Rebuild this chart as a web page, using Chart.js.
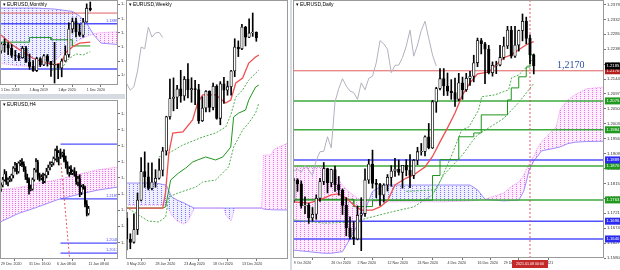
<!DOCTYPE html>
<html>
<head>
<meta charset="utf-8">
<title>EURUSD Monthly / H4 / Weekly / Daily</title>
<script src="https://cdn.jsdelivr.net/npm/chart.js@4.4.1/dist/chart.umd.min.js"></script>
<style>
  html, body { margin: 0; padding: 0; }
  body { width: 620px; height: 270px; position: relative; overflow: hidden; background: #d6dbe2; }
  canvas { position: absolute; background: #fff; }
</style>
</head>
<body>
<canvas id="monthly" width="125" height="94" style="left:0;top:0"></canvas>
<canvas id="h4" width="125" height="171" style="left:0;top:99px"></canvas>
<canvas id="weekly" width="165" height="270" style="left:125px;top:0"></canvas>
<canvas id="daily" width="328" height="270" style="left:292px;top:0"></canvas>
<script>
"use strict";

// ---------- Daily: bar 0 = 9 Oct 2020, bar 64 = 11 Jan 2021 ----------
const dailyOpen = [
  1.1760, 1.1826, 1.1814, 1.1745, 1.1747, 1.1706, 1.1718, 1.1768, 1.1821, 1.1862,
  1.1817, 1.1859, 1.1811, 1.1794, 1.1746, 1.1675, 1.1646, 1.1640, 1.1715, 1.1720,
  1.1826, 1.1876, 1.1815, 1.1812, 1.1779, 1.1810, 1.1834, 1.1854, 1.1860, 1.1850,
  1.1872, 1.1857, 1.1840, 1.1888, 1.1915, 1.1916, 1.1962, 1.1927, 1.2072, 1.2114,
  1.2145, 1.2122, 1.2106, 1.2101, 1.2080, 1.2132, 1.2110, 1.2146, 1.2153, 1.2195,
  1.2265, 1.2255, 1.2238, 1.2164, 1.2187, 1.2188, 1.2212, 1.2248, 1.2298, 1.2216,
  1.2251, 1.2297, 1.2326, 1.2272, 1.2220];
const dailyHigh = [
  1.1831, 1.1830, 1.1823, 1.1773, 1.1752, 1.1739, 1.1779, 1.1831, 1.1881, 1.1863,
  1.1860, 1.1870, 1.1837, 1.1798, 1.1770, 1.1710, 1.1695, 1.1744, 1.1770, 1.1861,
  1.1891, 1.1920, 1.1828, 1.1815, 1.1814, 1.1843, 1.1871, 1.1894, 1.1889, 1.1872,
  1.1890, 1.1906, 1.1891, 1.1929, 1.1941, 1.1965, 1.2004, 1.2077, 1.2118, 1.2177,
  1.2177, 1.2163, 1.2142, 1.2147, 1.2162, 1.2150, 1.2162, 1.2168, 1.2219, 1.2273,
  1.2272, 1.2260, 1.2250, 1.2198, 1.2200, 1.2250, 1.2276, 1.2310, 1.2310, 1.2310,
  1.2298, 1.2349, 1.2339, 1.2283, 1.2223];
const dailyLow = [
  1.1755, 1.1790, 1.1737, 1.1720, 1.1689, 1.1696, 1.1702, 1.1758, 1.1811, 1.1785,
  1.1804, 1.1790, 1.1778, 1.1717, 1.1650, 1.1640, 1.1622, 1.1637, 1.1603, 1.1711,
  1.1815, 1.1800, 1.1770, 1.1746, 1.1756, 1.1791, 1.1806, 1.1837, 1.1841, 1.1800,
  1.1839, 1.1802, 1.1830, 1.1874, 1.1904, 1.1902, 1.1924, 1.1925, 1.2039, 1.2110,
  1.2092, 1.2092, 1.2080, 1.2058, 1.2075, 1.2080, 1.2105, 1.2124, 1.2135, 1.2183,
  1.2223, 1.2129, 1.2160, 1.2153, 1.2161, 1.2185, 1.2206, 1.2240, 1.2210, 1.2212,
  1.2232, 1.2264, 1.2255, 1.2192, 1.2160];
const dailyClose = [
  1.1826, 1.1814, 1.1745, 1.1747, 1.1706, 1.1718, 1.1768, 1.1821, 1.1862, 1.1817,
  1.1859, 1.1811, 1.1794, 1.1746, 1.1675, 1.1646, 1.1640, 1.1715, 1.1720, 1.1826,
  1.1876, 1.1815, 1.1812, 1.1779, 1.1810, 1.1834, 1.1854, 1.1860, 1.1850, 1.1872,
  1.1857, 1.1840, 1.1888, 1.1915, 1.1916, 1.1962, 1.1927, 1.2072, 1.2114, 1.2145,
  1.2122, 1.2106, 1.2101, 1.2080, 1.2132, 1.2110, 1.2146, 1.2153, 1.2195, 1.2265,
  1.2255, 1.2238, 1.2164, 1.2187, 1.2188, 1.2212, 1.2248, 1.2298, 1.2216, 1.2251,
  1.2297, 1.2326, 1.2272, 1.2220, 1.2185];

// indicator lines (bar index, price)
const dTenkanX = [0, 4, 7, 10, 12, 14, 16, 18, 21, 23, 25, 27, 30, 32, 35, 37, 39, 41, 43, 45, 47, 49, 52, 54, 56, 58, 60, 62, 64];
const dTenkan = [1.1757, 1.1753, 1.1763, 1.1779, 1.1782, 1.1769, 1.1747, 1.1731, 1.1731, 1.1741, 1.1760, 1.1810, 1.1832, 1.1842, 1.1867,
                 1.1900, 1.1946, 1.1990, 1.2037, 1.2094, 1.2132, 1.2160, 1.2166, 1.2189, 1.2211, 1.2220, 1.2236, 1.2252, 1.2262];
const dKijunX = [0, 16, 16, 21, 21, 37, 37, 39, 39, 44, 44, 48, 48, 50, 50, 57, 57, 58, 58, 60, 60, 62, 62, 63, 63, 64];
const dKijun = [1.1765, 1.1765, 1.1742, 1.1742, 1.1762, 1.1762, 1.1840, 1.1840, 1.1890, 1.1890, 1.1962, 1.1962, 1.1974,
                1.1974, 1.2031, 1.2031, 1.2078, 1.2078, 1.2116, 1.2116, 1.2151, 1.2151, 1.2182, 1.2182, 1.2220, 1.2220];
const dDotAX = [30, 38, 42, 44.8, 46.7, 49.3, 50.1, 53.6, 57.3, 58.1, 60, 62.7, 64];
const dDotA = [1.1790, 1.1795, 1.1900, 1.1984, 1.1993, 1.2047, 1.2088, 1.2094, 1.2110, 1.2148, 1.2157, 1.2189, 1.2211];
const dDotBX = [0, 8, 15.5, 26, 32, 37, 40, 45, 47.5, 49, 52, 56, 60, 64];
const dDotB = [1.1700, 1.1690, 1.1693, 1.1725, 1.1741, 1.1779, 1.1842, 1.1905, 1.1946, 1.1968, 1.1990, 1.2020, 1.2070, 1.2130];
const dCloudX = [-0.2, 8, 10, 13, 15, 17, 19, 21, 24, 30, 40, 47, 49, 51, 56, 58, 60, 61.3, 62, 62.7, 64, 65, 66, 67, 70, 71, 73, 75, 78, 82.8];
const dSpanA = [1.1867, 1.1865, 1.1857, 1.1810, 1.1785, 1.1769, 1.1760, 1.1758, 1.1757, 1.1757, 1.1757, 1.1760, 1.1762, 1.1765, 1.1785,
                1.1805, 1.1820, 1.1840, 1.1860, 1.1873, 1.1900, 1.1927, 1.1945, 1.1958, 1.1993, 1.2047, 1.2078, 1.2094, 1.2113, 1.2119];
const dSpanB = [1.1605, 1.1595, 1.1595, 1.1600, 1.1640, 1.1684, 1.1731, 1.1790, 1.1810, 1.1810, 1.1810, 1.1810, 1.1795, 1.1765, 1.1760,
                1.1761, 1.1762, 1.1790, 1.1820, 1.1855, 1.1886, 1.1900, 1.1917, 1.1920, 1.1927, 1.1930, 1.1940, 1.1945, 1.1947, 1.1948];

const dailyRedLevels = [1.2170];
const dailyGreenLevels = [1.2075, 1.1984, 1.1870, 1.1763];
const dailyBlueLevels = [1.1889, 1.1696, 1.1640];
const dailyPriceTicks = [1.2379, 1.2332, 1.2285, 1.2238, 1.2191, 1.2144, 1.2097, 1.2050, 1.2003, 1.1956, 1.1909,
                         1.1862, 1.1815, 1.1768, 1.1721, 1.1674, 1.1627, 1.1580];
const dailyDateTicks = [0, 10, 17, 25, 33, 41, 49, 56, 64];
const dailyDateLabels = ["9 Oct 2020", "26 Oct 2020", "2 Nov 2020", "12 Nov 2020", "24 Nov 2020",
                         "4 Dec 2020", "16 Dec 2020", "29 Dec 2020", "11 Jan 2021"];
const dailyCursor = 63;
const dailyCursorLabel = "2021.01.08 00:00";
const dailyNote = "1,2170";

// ---------- Weekly: bar 0 = 3 May 2020 ----------
const weeklyOpen = [
  1.0980, 1.0839, 1.0818, 1.0904, 1.1100, 1.1290, 1.1255, 1.1178, 1.1220, 1.1246,
  1.1300, 1.1428, 1.1656, 1.1778, 1.1787, 1.1842, 1.1795, 1.1906, 1.1836, 1.1844,
  1.1838, 1.1630, 1.1715, 1.1826, 1.1718, 1.1860, 1.1646, 1.1876, 1.1834, 1.1857,
  1.1962, 1.2122, 1.2110, 1.2255, 1.2188, 1.2216, 1.2220];
const weeklyHigh = [
  1.1019, 1.0875, 1.1008, 1.1147, 1.1384, 1.1422, 1.1348, 1.1349, 1.1303, 1.1375,
  1.1452, 1.1660, 1.1908, 1.1916, 1.1866, 1.1966, 1.1925, 1.2011, 1.1917, 1.1900,
  1.1873, 1.1790, 1.1831, 1.1830, 1.1881, 1.1870, 1.1891, 1.1920, 1.1894, 1.1966,
  1.2177, 1.2163, 1.2273, 1.2260, 1.2310, 1.2349, 1.2223];
const weeklyLow = [
  1.0767, 1.0775, 1.0812, 1.0870, 1.1095, 1.1185, 1.1168, 1.1168, 1.1186, 1.1240,
  1.1261, 1.1400, 1.1640, 1.1696, 1.1711, 1.1753, 1.1766, 1.1782, 1.1753, 1.1737,
  1.1612, 1.1625, 1.1689, 1.1689, 1.1702, 1.1640, 1.1603, 1.1746, 1.1800, 1.1800,
  1.1924, 1.2058, 1.2105, 1.2129, 1.2185, 1.2193, 1.2160];
const weeklyClose = [
  1.0839, 1.0818, 1.0904, 1.1100, 1.1290, 1.1255, 1.1178, 1.1220, 1.1246, 1.1300,
  1.1428, 1.1656, 1.1778, 1.1787, 1.1842, 1.1795, 1.1906, 1.1836, 1.1844, 1.1838,
  1.1630, 1.1715, 1.1826, 1.1718, 1.1860, 1.1646, 1.1876, 1.1834, 1.1857, 1.1962,
  1.2122, 1.2110, 1.2255, 1.2188, 1.2216, 1.2220, 1.2185];

const wTenkanX = [-0.2, 10, 10.8, 11.7, 12.8, 15.6, 18.3, 19.7, 21.1, 24.7, 27.5, 28.9, 30.3, 32.2, 33.9, 35.8, 36.7];
const wTenkan = [1.1047, 1.1047, 1.1154, 1.1414, 1.1548, 1.1555, 1.1635, 1.1748, 1.1802, 1.1802, 1.1748, 1.1768, 1.1882,
                 1.1915, 1.2015, 1.2055, 1.2069];
const wKijunX = [-0.2, 10, 10.8, 12.2, 14.4, 16.4, 18.3, 19.7, 21.9, 24.7, 26.7, 28.9, 29.7, 31.1, 33, 33.9, 35.8, 36.7];
const wKijun = [1.1047, 1.1047, 1.1054, 1.1234, 1.1281, 1.1314, 1.1354, 1.1368, 1.1388, 1.1368, 1.1388, 1.1454, 1.1655,
                1.1681, 1.1701, 1.1768, 1.1855, 1.1868];
const wDotUpX = [8.9, 11.7, 15.6, 21.1, 24.7, 27.5, 28.9, 30.3, 32.2, 33.9, 36.7];
const wDotUp = [1.1388, 1.1414, 1.1468, 1.1521, 1.1548, 1.1588, 1.1668, 1.1788, 1.1835, 1.1902, 1.1968];
const wDotLoX = [-0.2, 6, 8.9, 10.8, 11.7, 14.2, 19.2, 21.1, 24.7, 28.3, 29.7, 32.2, 33.9, 35.8, 36.7];
const wDotLo = [1.1054, 1.0960, 1.0954, 1.0987, 1.1121, 1.1147, 1.1187, 1.1221, 1.1234, 1.1321, 1.1454, 1.1568, 1.1615,
                1.1681, 1.1748];
const wCloudX = [-0.2, 8, 11, 12.5, 14, 16, 17, 18.5, 19, 27, 27.5, 29, 30, 37.5, 38, 40, 41, 44.8];
const wSpanA = [1.1067, 1.1067, 1.1067, 1.1000, 1.0960, 1.0940, 1.0960, 1.1030, 1.1047, 1.1047, 1.1000, 1.0960, 1.1047,
                1.1047, 1.1401, 1.1401, 1.1440, 1.1481];
const wSpanB = [1.1214, 1.1214, 1.1200, 1.1121, 1.1100, 1.1080, 1.1067, 1.1050, 1.1047, 1.1047, 1.1047, 1.1047, 1.1047,
                1.1047, 1.1040, 1.1036, 1.1035, 1.1034];
const weeklyDateTicks = [0, 8, 16, 24, 32];
const weeklyDateLabels = ["3 May 2020", "28 Jun 2020", "23 Aug 2020", "18 Oct 2020", "13 Dec 2020"];

// ---------- Monthly: bar 0 = Dec 2018 ----------
const monthlyOpen = [1.1316, 1.1467, 1.1447, 1.1371, 1.1217, 1.1214, 1.1169, 1.1371, 1.1077, 1.0987, 1.0899, 1.1152, 1.1017,
                     1.1213, 1.1093, 1.1026, 1.1031, 1.0955, 1.1100, 1.1234, 1.1778, 1.1937, 1.1720, 1.1646, 1.1925, 1.2216];
const monthlyHigh = [1.1487, 1.1570, 1.1489, 1.1448, 1.1324, 1.1265, 1.1412, 1.1412, 1.1249, 1.1109, 1.1179, 1.1175, 1.1239,
                     1.1239, 1.1096, 1.1496, 1.1039, 1.1147, 1.1422, 1.1908, 1.2011, 1.2011, 1.1881, 1.2004, 1.2310, 1.2349];
const monthlyLow = [1.1269, 1.1289, 1.1234, 1.1176, 1.1110, 1.1107, 1.1160, 1.1070, 1.0926, 1.0879, 1.0879, 1.0981, 1.1002,
                    1.0992, 1.0778, 1.0636, 1.0727, 1.0767, 1.1095, 1.1185, 1.1696, 1.1612, 1.1622, 1.1603, 1.1922, 1.2160];
const monthlyClose = [1.1467, 1.1447, 1.1371, 1.1217, 1.1214, 1.1169, 1.1371, 1.1077, 1.0987, 1.0899, 1.1152, 1.1017, 1.1213,
                      1.1093, 1.1026, 1.1031, 1.0955, 1.1100, 1.1234, 1.1778, 1.1937, 1.1720, 1.1646, 1.1925, 1.2216, 1.2185];
const mTenkanX = [0, 3, 6, 9, 12, 15, 17, 18, 20, 22, 25];
const mTenkan = [1.1650, 1.1450, 1.1300, 1.1160, 1.1070, 1.1020, 1.1060, 1.1270, 1.1400, 1.1480, 1.1500];
const mKijunX = [0, 8, 8, 14, 14, 20, 20, 25];
const mKijun = [1.1500, 1.1500, 1.1600, 1.1600, 1.1550, 1.1550, 1.1420, 1.1420];
const mDotX = [14, 17, 19, 21, 23, 25];
const mDot = [1.0900, 1.0950, 1.1150, 1.1250, 1.1230, 1.1300];
const mCloudX = [-0.3, 5, 10, 15, 20, 22, 24, 26, 28, 32.8];
const mSpanA = [1.1050, 1.1000, 1.0980, 1.1100, 1.1450, 1.1550, 1.1620, 1.1680, 1.1700, 1.1720];
const mSpanB = [1.2220, 1.2220, 1.2220, 1.2200, 1.2150, 1.2050, 1.1900, 1.1650, 1.1480, 1.1450];
const monthlyRedLevels = [1.2115];
const monthlyBlueLevels = [1.1889, 1.0933];
const monthlyPriceTicks = [1.2300, 1.2000, 1.1700, 1.1400, 1.1100, 1.0800];
const monthlyDateTicks = [0, 8, 16, 24];
const monthlyDateLabels = ["1 Dec 2018", "1 Aug 2019", "1 Apr 2020", "1 Dec 2020"];

// ---------- H4: bar 0 = 29 Dec 2020 00:00 ----------
const h4Open = [
  1.2215, 1.2228, 1.2245, 1.2262, 1.2238, 1.2245, 1.2248, 1.2258, 1.2280, 1.2290, 1.2270, 1.2295,
  1.2298, 1.2292, 1.2275, 1.2252, 1.2245, 1.2215, 1.2216, 1.2245, 1.2275, 1.2300, 1.2255, 1.2250,
  1.2252, 1.2240, 1.2258, 1.2270, 1.2282, 1.2292, 1.2297, 1.2310, 1.2335, 1.2315, 1.2328, 1.2322,
  1.2326, 1.2305, 1.2290, 1.2268, 1.2278, 1.2265, 1.2270, 1.2262, 1.2238, 1.2248, 1.2205, 1.2222,
  1.2220, 1.2168, 1.2140];
const h4High = [
  1.2235, 1.2252, 1.2276, 1.2270, 1.2250, 1.2255, 1.2262, 1.2285, 1.2298, 1.2295, 1.2300, 1.2305,
  1.2310, 1.2300, 1.2285, 1.2262, 1.2250, 1.2228, 1.2250, 1.2280, 1.2310, 1.2305, 1.2265, 1.2260,
  1.2265, 1.2262, 1.2280, 1.2290, 1.2300, 1.2300, 1.2315, 1.2340, 1.2349, 1.2335, 1.2340, 1.2330,
  1.2338, 1.2318, 1.2300, 1.2285, 1.2288, 1.2275, 1.2282, 1.2270, 1.2255, 1.2260, 1.2228, 1.2230,
  1.2225, 1.2180, 1.2162];
const h4Low = [
  1.2208, 1.2222, 1.2240, 1.2230, 1.2225, 1.2238, 1.2240, 1.2250, 1.2270, 1.2262, 1.2265, 1.2288,
  1.2285, 1.2270, 1.2245, 1.2235, 1.2200, 1.2210, 1.2212, 1.2240, 1.2268, 1.2245, 1.2240, 1.2244,
  1.2232, 1.2235, 1.2250, 1.2260, 1.2275, 1.2285, 1.2290, 1.2305, 1.2300, 1.2290, 1.2310, 1.2315,
  1.2300, 1.2280, 1.2262, 1.2255, 1.2260, 1.2260, 1.2255, 1.2230, 1.2225, 1.2192, 1.2198, 1.2215,
  1.2160, 1.2132, 1.2135];
const h4Close = [
  1.2228, 1.2245, 1.2262, 1.2238, 1.2245, 1.2248, 1.2258, 1.2280, 1.2290, 1.2270, 1.2295, 1.2298,
  1.2292, 1.2275, 1.2252, 1.2245, 1.2215, 1.2216, 1.2245, 1.2275, 1.2300, 1.2255, 1.2250, 1.2252,
  1.2240, 1.2258, 1.2270, 1.2282, 1.2292, 1.2297, 1.2310, 1.2335, 1.2315, 1.2328, 1.2322, 1.2326,
  1.2305, 1.2290, 1.2268, 1.2278, 1.2265, 1.2270, 1.2262, 1.2238, 1.2248, 1.2205, 1.2222, 1.2220,
  1.2168, 1.2140, 1.2155];
const hCloudX = [-0.6, 10, 20, 32, 45, 55, 67];
const hSpanA = [1.2213, 1.2220, 1.2232, 1.2244, 1.2262, 1.2275, 1.2284];
const hSpanB = [1.2113, 1.2140, 1.2158, 1.2182, 1.2200, 1.2212, 1.2222];
const h4BlueLevels = [1.2355, 1.2185, 1.2048, 1.2017];
const h4LevelStart = 34;
const h4TrendX = [34.3, 39.4];
const h4Trend = [1.2296, 1.1989];
const h4PriceTicks = [1.2450, 1.2400, 1.2350, 1.2300, 1.2250, 1.2200, 1.2150, 1.2100, 1.2050];
const h4DateTicks = [0, 16, 32, 50];
const h4DateLabels = ["29 Dec 2020", "31 Dec 16:00", "6 Jan 08:00", "11 Jan 08:00"];

// ---------- helpers ----------
const FONT = "'Liberation Sans', 'DejaVu Sans', sans-serif";
const RED = "rgb(240, 80, 80)";
const KIJUN = "rgb(30, 150, 30)";
const DOTTED = "rgb(80, 175, 80)";
const CHIKOU = "rgb(178, 178, 190)";
const LVL_GREEN = "rgb(60, 170, 60)";
const LVL_BLUE = "rgb(80, 80, 255)";
const LVL_RED = "rgb(225, 95, 95)";
const PINK = [240, 110, 240];
const BLUE = [120, 120, 255];

// dotted hatch of the cloud: a light tint plus one solid dot per w x h cell
function dots(rgb, w, h) {
  const c = document.createElement("canvas");
  c.width = w;
  c.height = h;
  const g = c.getContext("2d");
  g.fillStyle = "rgba(" + rgb.join(",") + ",0.12)";
  g.fillRect(0, 0, w, h);
  g.fillStyle = "rgb(" + rgb.join(",") + ")";
  g.fillRect(0, 0, 1, 1);
  return g.createPattern(c, "repeat");
}

function pts(xs, ys) {
  return xs.map((x, i) => ({x: x, y: ys[i]}));
}

function line(data, color, width, dash, order) {
  return {type: "line", data: data, borderColor: color, backgroundColor: color, borderWidth: width,
          borderDash: dash || [], pointRadius: 0, tension: 0, fill: false, order: order};
}

function candles(o, h, l, c, body, border, bull) {
  return [
    {type: "bar", order: 0, grouped: false, barThickness: body,
     data: o.map((v, i) => ({x: i, y: [Math.min(v, c[i]), Math.max(v, c[i])]})),
     backgroundColor: o.map((v, i) => c[i] >= v ? bull : "#000"),
     borderColor: "#000", borderWidth: border, borderSkipped: false},
    {type: "bar", order: 1, grouped: false, barThickness: 1,
     data: o.map((v, i) => ({x: i, y: [l[i], h[i]]})),
     backgroundColor: "#000"}
  ];
}

function cloud(ds, xs, a, b, pink, blue) {
  ds.push(line(pts(xs, b), "rgba(140, 125, 250, 0.85)", 1, [], 9));
  const bi = ds.length - 1;
  const spanA = line(pts(xs, a), "rgba(240, 120, 240, 0.8)", 1, [1, 1], 8);
  spanA.fill = {target: bi, above: pink, below: blue};
  ds.push(spanA);
}

function levels(ds, values, x0, x1, color, width) {
  for (const v of values) {
    ds.push(line([{x: x0, y: v}, {x: x1, y: v}], color, width, [], 6));
  }
}

function xAxis(min, max, ticks, labels, height) {
  return {
    type: "linear", min: min, max: max, offset: false,
    afterBuildTicks: s => { s.ticks = ticks.map(v => ({value: v})); },
    afterFit: s => { s.height = height; s.paddingLeft = 0; s.paddingRight = 0; },
    ticks: {autoSkip: false, maxRotation: 0, minRotation: 0, align: "start", padding: 1, color: "#333",
            font: {size: 3.6, family: FONT}, callback: (v, i) => labels[i]},
    grid: {drawOnChartArea: false, tickLength: 2, color: "#777"},
    border: {display: false}
  };
}

function yAxis(min, max, ticks, width) {
  return {
    type: "linear", position: "right", min: min, max: max, display: width > 0,
    afterBuildTicks: s => { s.ticks = ticks.map(v => ({value: v})); },
    afterFit: s => { s.width = width; s.paddingTop = 0; s.paddingBottom = 0; },
    ticks: {autoSkip: false, padding: 1, color: "#333", font: {size: 4.2, family: FONT},
            callback: v => v.toFixed(4)},
    grid: {drawOnChartArea: false, tickLength: 2, color: "#777"},
    border: {display: false}
  };
}

function panel(title, extra) {
  return {
    id: "panel",
    afterDraw(chart) {
      const ctx = chart.ctx;
      const a = chart.chartArea;
      ctx.save();
      if (extra) {
        extra(chart, ctx, a);
      }
      ctx.strokeStyle = "#9a9a9a";
      ctx.lineWidth = 1;
      ctx.strokeRect(a.left + 0.5, a.top + 0.5, a.right - a.left - 1, a.bottom - a.top - 1);
      ctx.fillStyle = "#000";
      ctx.font = "5px " + FONT;
      ctx.textAlign = "left";
      ctx.textBaseline = "middle";
      ctx.fillText("\u25BE " + title, a.left + 3, a.top + 5);
      ctx.restore();
    }
  };
}

function levelTags(values, color) {
  return function(chart, ctx, a) {
    ctx.beginPath();
    ctx.rect(a.left, a.top, a.right - a.left, a.bottom - a.top);
    ctx.clip();
    ctx.fillStyle = color;
    ctx.font = "4px " + FONT;
    ctx.textBaseline = "bottom";
    for (const v of values) {
      ctx.fillText(v.toFixed(4), a.right - 12, chart.scales.y.getPixelForValue(v) - 1);
    }
  };
}

function makeChart(id, datasets, x, y, padding, title, extra) {
  return new Chart(document.getElementById(id), {
    type: "bar",
    data: {datasets: datasets},
    options: {
      responsive: false, maintainAspectRatio: false, devicePixelRatio: 1,
      animation: false, events: [],
      layout: {padding: padding},
      plugins: {legend: {display: false}, tooltip: {enabled: false}},
      scales: {x: x, y: y}
    },
    plugins: [panel(title, extra)]
  });
}

// ---------- Daily ----------
const DX0 = -0.2, DX1 = 82.73, DY0 = 1.1580, DY1 = 1.2393;
const daily = candles(dailyOpen, dailyHigh, dailyLow, dailyClose, 2.6, 0.8, "#fff");
daily.push(line(pts(dTenkanX, dTenkan), RED, 1.3, [], 2));
daily.push(line(pts(dKijunX, dKijun), KIJUN, 1, [], 3));
daily.push(line(pts(dDotAX, dDotA), DOTTED, 1, [2, 1.5], 4));
daily.push(line(pts(dDotBX, dDotB), DOTTED, 1, [2, 1.5], 4));
daily.push(line(dailyClose.map((c, i) => ({x: i - 26, y: c})), CHIKOU, 1, [], 5));
daily.push(line([{x: dailyCursor, y: DY0}, {x: dailyCursor, y: DY1}], "rgba(225, 70, 90, 0.9)", 1, [2, 2], 3));
levels(daily, dailyGreenLevels, DX0, DX1, LVL_GREEN, 1.5);
levels(daily, dailyBlueLevels, DX0, DX1, LVL_BLUE, 1.5);
levels(daily, dailyRedLevels, DX0, DX1, LVL_RED, 1);
cloud(daily, dCloudX, dSpanA, dSpanB, dots(PINK, 4, 2), dots(BLUE, 4, 2));

function dailyExtra(chart, ctx, a) {
  const xs = chart.scales.x;
  const ys = chart.scales.y;
  ctx.fillStyle = "#2c4f9e";
  ctx.font = "10px 'Liberation Serif', serif";
  ctx.textBaseline = "alphabetic";
  ctx.textAlign = "left";
  ctx.fillText(dailyNote, xs.getPixelForValue(70.2), ys.getPixelForValue(dailyRedLevels[0]) - 3);

  const boxes = [];
  dailyGreenLevels.forEach(v => boxes.push([v, "#1f9a1f"]));
  dailyBlueLevels.forEach(v => boxes.push([v, "#2a2af0"]));
  boxes.push([dailyRedLevels[0], "#b3201f"]);
  boxes.push([dailyClose[dailyClose.length - 1], "#000"]);
  ctx.font = "4.2px " + FONT;
  ctx.textBaseline = "middle";
  for (const [v, bg] of boxes) {
    const py = ys.getPixelForValue(v);
    ctx.fillStyle = bg;
    ctx.fillRect(a.right + 1, py - 3.5, 15, 7);
    ctx.fillStyle = "#fff";
    ctx.fillText(v.toFixed(4), a.right + 2.5, py);
  }

  const cx = xs.getPixelForValue(dailyCursor);
  ctx.fillStyle = "#c42a2a";
  ctx.fillRect(cx - 18, a.bottom + 2, 36, 8);
  ctx.fillStyle = "#fff";
  ctx.textAlign = "center";
  ctx.font = "3.6px " + FONT;
  ctx.fillText(dailyCursorLabel, cx, a.bottom + 6);
}

makeChart("daily", daily, xAxis(DX0, DX1, dailyDateTicks, dailyDateLabels, 12),
          yAxis(DY0, DY1, dailyPriceTicks, 16), {left: 1, top: 0, right: 0, bottom: 0},
          "EURUSD,Daily", dailyExtra);

// ---------- Weekly ----------
const weekly = candles(weeklyOpen, weeklyHigh, weeklyLow, weeklyClose, 2.5, 0.8, "#fff");
weekly.push(line(pts(wTenkanX, wTenkan), RED, 1.3, [], 2));
weekly.push(line(pts(wKijunX, wKijun), KIJUN, 1, [], 3));
weekly.push(line(pts(wDotUpX, wDotUp), DOTTED, 1, [2, 1.5], 4));
weekly.push(line(pts(wDotLoX, wDotLo), DOTTED, 1, [2, 1.5], 4));
weekly.push(line(weeklyClose.map((c, i) => ({x: i - 26, y: c})), CHIKOU, 1, [], 5));
cloud(weekly, wCloudX, wSpanA, wSpanB, dots(PINK, 4, 2), dots(BLUE, 4, 2));

makeChart("weekly", weekly, xAxis(-0.2, 44.8, weeklyDateTicks, weeklyDateLabels, 11),
          yAxis(1.07068, 1.24358, [], 0), {left: 1, top: 0, right: 2, bottom: 0},
          "EURUSD,Weekly", null);

// ---------- Monthly ----------
const monthly = candles(monthlyOpen, monthlyHigh, monthlyLow, monthlyClose, 2.5, 0.8, "#fff");
monthly.push(line(pts(mTenkanX, mTenkan), RED, 1.3, [], 2));
monthly.push(line(pts(mKijunX, mKijun), KIJUN, 1, [], 3));
monthly.push(line(pts(mDotX, mDot), DOTTED, 1, [2, 1.5], 4));
levels(monthly, monthlyRedLevels, -0.28, 32.77, LVL_RED, 1);
levels(monthly, monthlyBlueLevels, -0.28, 32.77, LVL_BLUE, 1.5);
cloud(monthly, mCloudX, mSpanA, mSpanB, dots(PINK, 4, 2), dots(BLUE, 4, 2));

makeChart("monthly", monthly, xAxis(-0.28, 32.77, monthlyDateTicks, monthlyDateLabels, 9),
          yAxis(1.05942, 1.23913, monthlyPriceTicks, 7), {left: 0, top: 0, right: 0, bottom: 0},
          "EURUSD,Monthly", levelTags(monthlyBlueLevels.slice(0, 1), LVL_BLUE));

// ---------- H4 ----------
const h4 = candles(h4Open, h4High, h4Low, h4Close, 1.5, 0.5, "#fff");
levels(h4, h4BlueLevels, h4LevelStart, 66.86, LVL_BLUE, 1.3);
h4.push(line(pts(h4TrendX, h4Trend), "rgba(225, 70, 90, 0.9)", 1, [2, 2], 3));
cloud(h4, hCloudX, hSpanA, hSpanB, dots(PINK, 3, 2), dots(BLUE, 3, 2));

makeChart("h4", h4, xAxis(-0.57, 66.86, h4DateTicks, h4DateLabels, 11),
          yAxis(1.19987, 1.24916, h4PriceTicks, 7), {left: 0, top: 1, right: 0, bottom: 0},
          "EURUSD,H4", levelTags(h4BlueLevels.slice(1), LVL_BLUE));
</script>
</body>
</html>
